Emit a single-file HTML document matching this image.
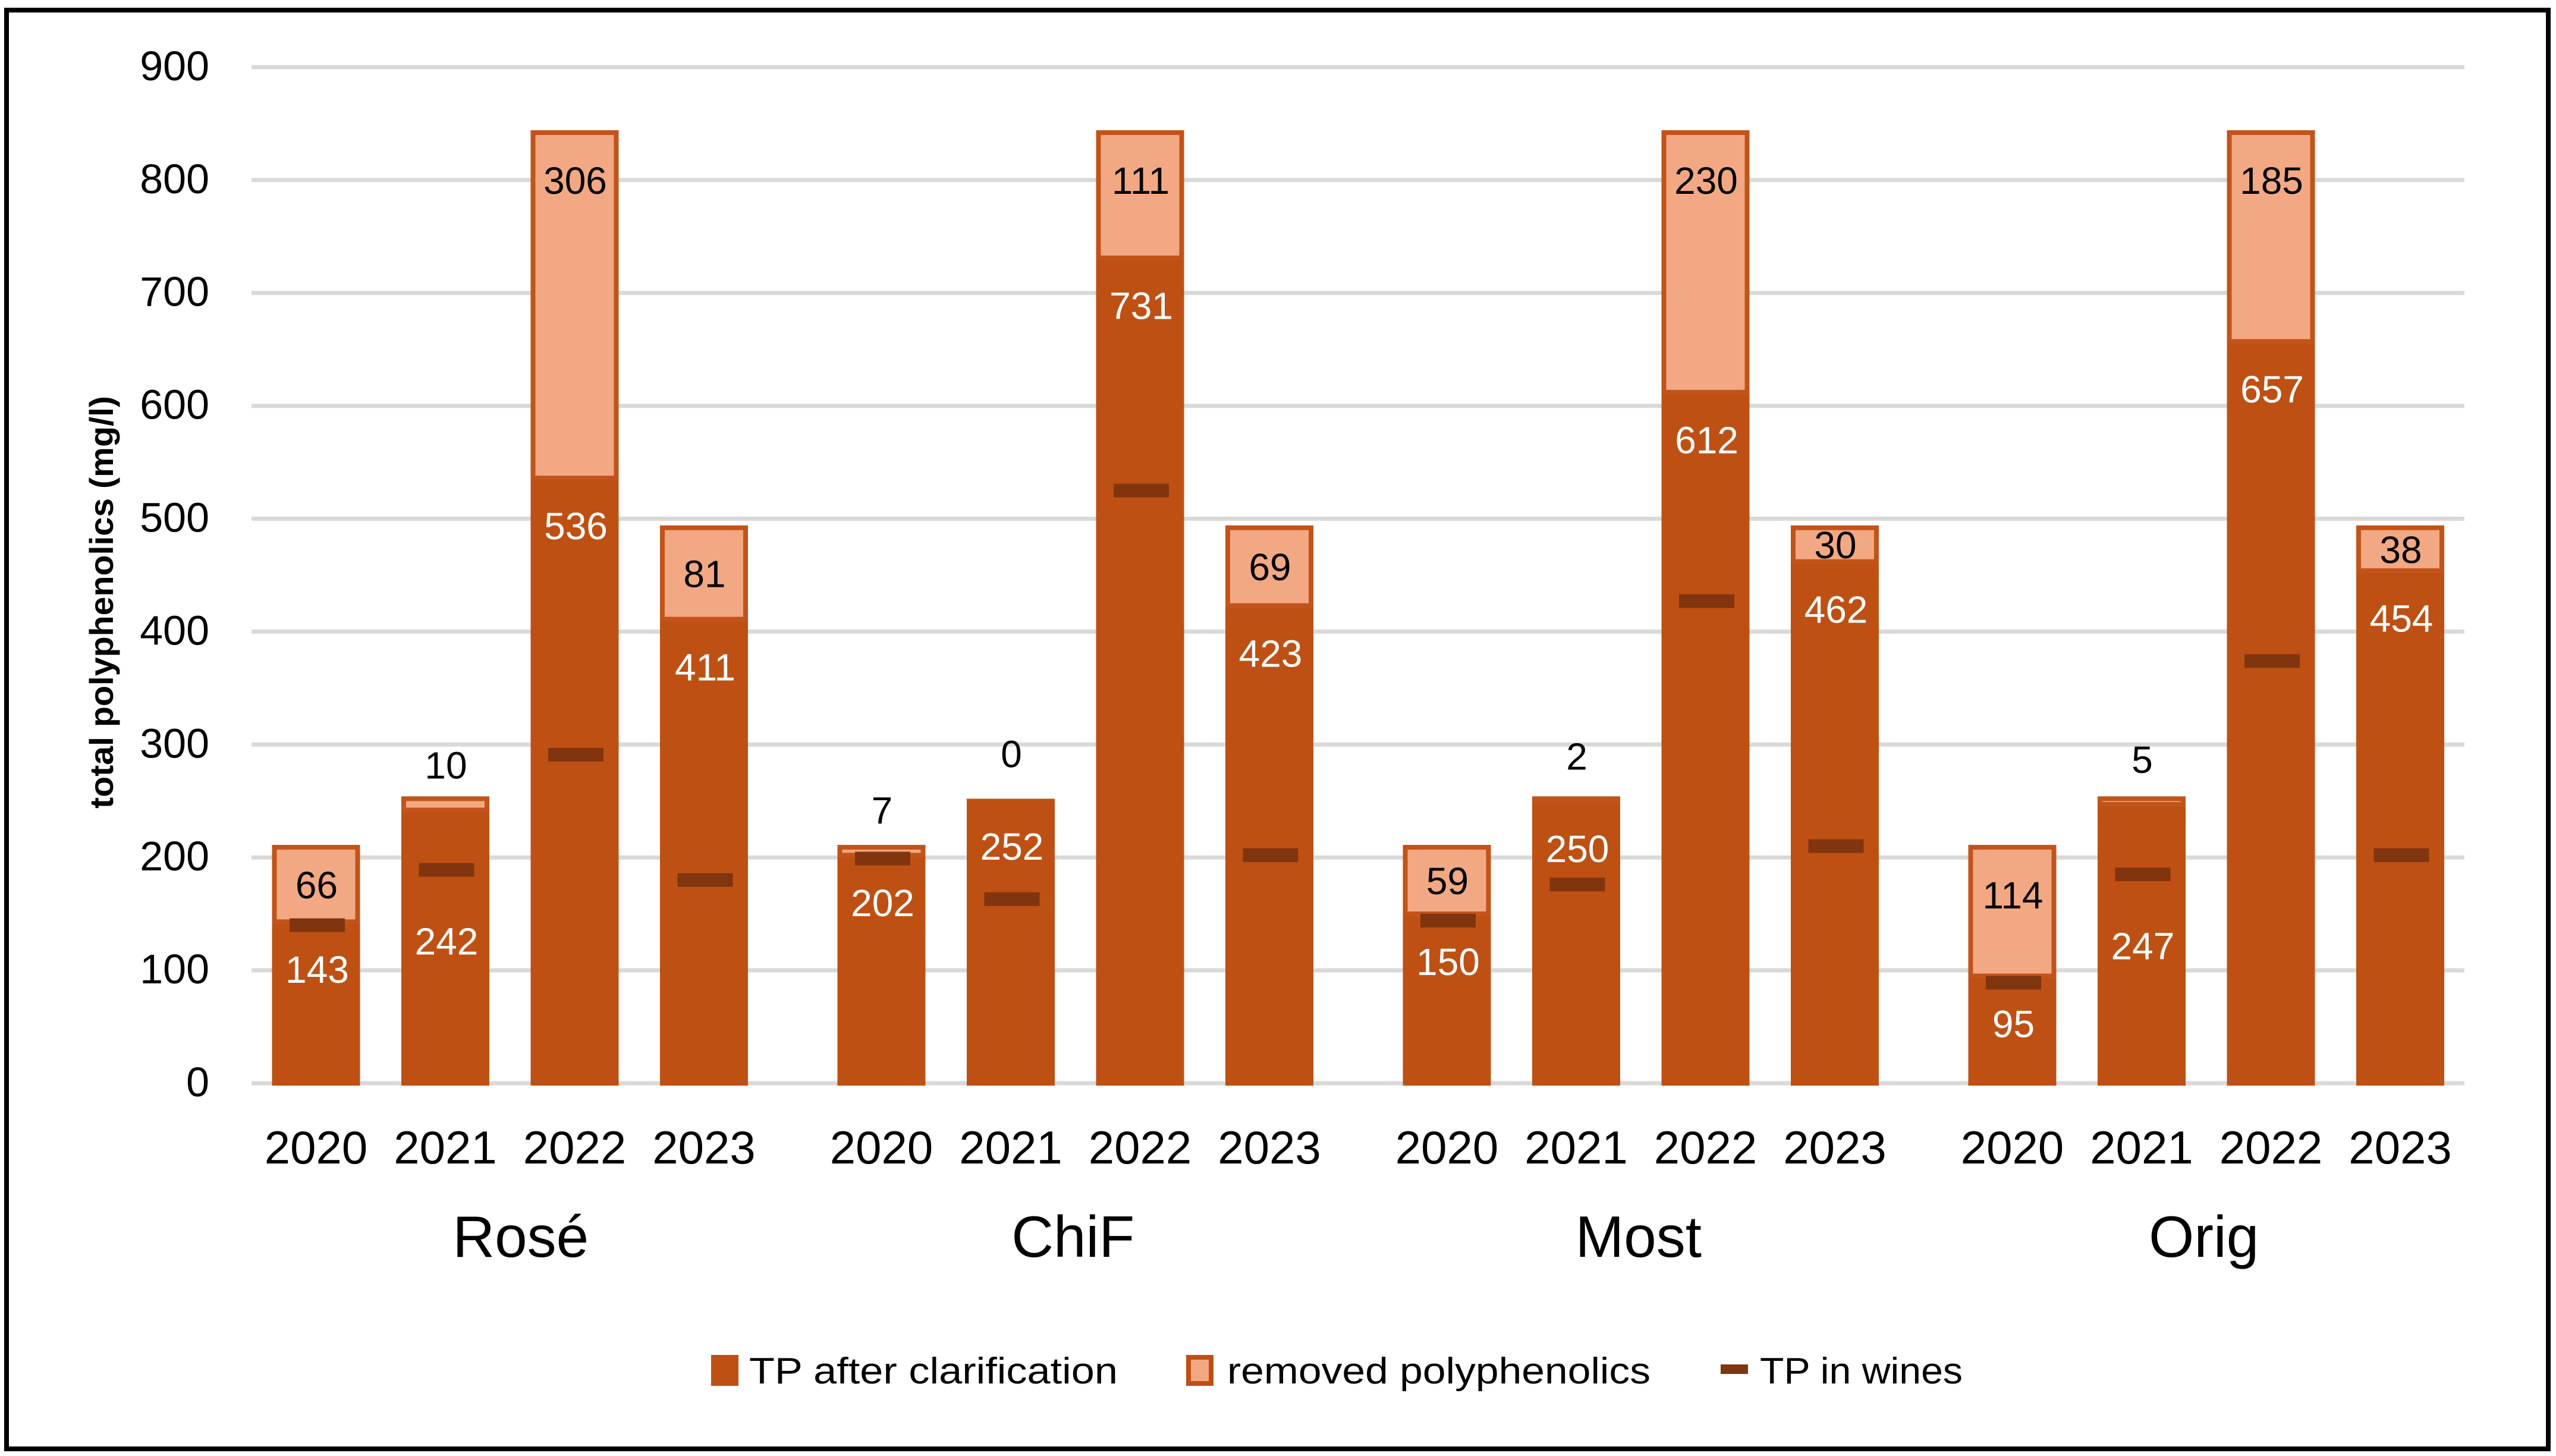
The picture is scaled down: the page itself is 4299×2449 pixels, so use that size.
<!DOCTYPE html>
<html lang="en">
<head>
<meta charset="utf-8">
<title>Total polyphenolics by wine type and year</title>
<style>
html,body{margin:0;padding:0;background:#fff;}
svg{display:block;}
text{font-family:"Liberation Sans",sans-serif;fill:#000;}
</style>
</head>
<body>
<svg id="chart" xmlns="http://www.w3.org/2000/svg" width="4299" height="2449" viewBox="0 0 4299 2449">
  <rect x="0" y="0" width="4299" height="2449" fill="#ffffff"/>
  <rect x="11" y="17" width="4275" height="2420" fill="none" stroke="#000000" stroke-width="8"/>
  <g id="grid"></g>
  <g id="yticks"></g>
  <g id="bars"></g>
  <g id="marks"></g>
  <g id="labels"></g>
  <g id="xticks"></g>
  <text transform="translate(190 1013) rotate(-90)" text-anchor="middle" font-size="56" font-weight="700" textLength="694" lengthAdjust="spacingAndGlyphs">total polyphenolics (mg/l)</text>
  <g>
    <g>
      <rect x="1196" y="2279" width="46" height="52" fill="#BE5014"/>
      <text x="1260" y="2327" font-size="62" textLength="620" lengthAdjust="spacingAndGlyphs">TP after clarification</text>
    </g>
    <g>
      <rect x="1999" y="2283" width="38" height="44" fill="#F2A983" stroke="#BE5014" stroke-width="8"/>
      <text x="2064" y="2327" font-size="62" textLength="712" lengthAdjust="spacingAndGlyphs">removed polyphenolics</text>
    </g>
    <g>
      <rect x="2894" y="2295" width="46" height="16" fill="#80350F"/>
      <text x="2960" y="2327" font-size="62" textLength="341" lengthAdjust="spacingAndGlyphs">TP in wines</text>
    </g>
  </g>
</svg>
<script>
const groups = ["Rosé", "ChiF", "Most", "Orig"];
const years = ["2020", "2021", "2022", "2023"];
const yTicks = [0, 100, 200, 300, 400, 500, 600, 700, 800, 900];
const tpAfterClarification = [
  [143, 242, 536, 411],
  [202, 252, 731, 423],
  [150, 250, 612, 462],
  [95, 247, 657, 454]
];
const removedPolyphenolics = [
  [66, 10, 306, 81],
  [7, 0, 111, 69],
  [59, 2, 230, 30],
  [114, 5, 185, 38]
];
const tpInWines = [
  [140, 189, 291, 180],
  [199, 163, 525, 202],
  [144, 176, 427, 210],
  [89, 185, 374, 202]
];

const NS = "http://www.w3.org/2000/svg";
const DARK = "#BE5014", LIGHT = "#F2A983", EDGE = "#C2531A", MARK = "#80350F", GRID = "#D9D9D9";
const BAR_W = 148, MARK_W = 93, MARK_H = 23;

function yScale(v) { return 1822 - v * 1.899; }
function xScale(g, c) { return 531.5 + g * 951 + c * 217.5; }

function make(tag, parent, attrs, content) {
  const el = document.createElementNS(NS, tag);
  for (const k in attrs) el.setAttribute(k, attrs[k]);
  if (content !== undefined) el.textContent = content;
  parent.appendChild(el);
  return el;
}

const gridG = document.getElementById("grid");
const yTickG = document.getElementById("yticks");
const barsG = document.getElementById("bars");
const marksG = document.getElementById("marks");
const labelsG = document.getElementById("labels");
const xTickG = document.getElementById("xticks");

yTicks.forEach(function (t) {
  const line = make("line", gridG, { x1: 423, x2: 4145, y1: yScale(t), y2: yScale(t), stroke: GRID, "stroke-width": 7 });
  
  
  const label = make("text", yTickG, { x: 352, y: yScale(t) + 22, "text-anchor": "end", "font-size": 70 }, String(t));
  
  
});

groups.forEach(function (groupName, g) {
  years.forEach(function (year, c) {
    const cx = xScale(g, c);
    const tp = tpAfterClarification[g][c];
    const removed = removedPolyphenolics[g][c];
    const wine = tpInWines[g][c];
    const stackTop = tp + removed;

    const dark = make("rect", barsG, { x: cx - BAR_W / 2, y: yScale(tp), width: BAR_W, height: yScale(0) + 4 - yScale(tp), fill: DARK });
    
    

    const light = make("rect", barsG, { x: cx - BAR_W / 2 + 4, y: yScale(stackTop), width: BAR_W - 8, height: yScale(tp) - yScale(stackTop), fill: LIGHT, stroke: EDGE, "stroke-width": 8 });
    
    

    const mark = make("rect", marksG, { x: cx + 2 - MARK_W / 2, y: yScale(wine) - MARK_H / 2, width: MARK_W, height: MARK_H, fill: MARK });
    
    

    /* inside-end label, moved below the marker when the two would collide */
    let tpLabelAt = tp - 42;
    if (Math.abs(tpLabelAt - wine) < 30) tpLabelAt = wine - 63;
    const tpLabel = make("text", labelsG, { x: cx + 2, y: yScale(tpLabelAt) + 23, "text-anchor": "middle", "font-size": 64, style: "fill:#ffffff" }, String(tp));
    
    

    /* tall segment: inside end; medium: centred; thin: above the bar */
    let removedLabelAt = tp + removed / 2;
    if (removed >= 100) removedLabelAt = stackTop - 42;
    if (removed < 20) removedLabelAt = tp + 40;
    const removedLabel = make("text", labelsG, { x: cx + 1, y: yScale(removedLabelAt) + 23, "text-anchor": "middle", "font-size": 64 }, String(removed));
    
    

    const yearLabel = make("text", xTickG, { x: cx, y: 1957, "text-anchor": "middle", "font-size": 78 }, year);
    
    
  });

  /* the first group's title sits right of its group centre in the reference */
  const groupShift = g === 0 ? 18 : -4;
  const groupLabel = make("text", xTickG, { x: (xScale(g, 0) + xScale(g, 3)) / 2 + groupShift, y: 2114, "text-anchor": "middle", "font-size": 98 }, groupName);
  
  
});
</script>
</body>
</html>
